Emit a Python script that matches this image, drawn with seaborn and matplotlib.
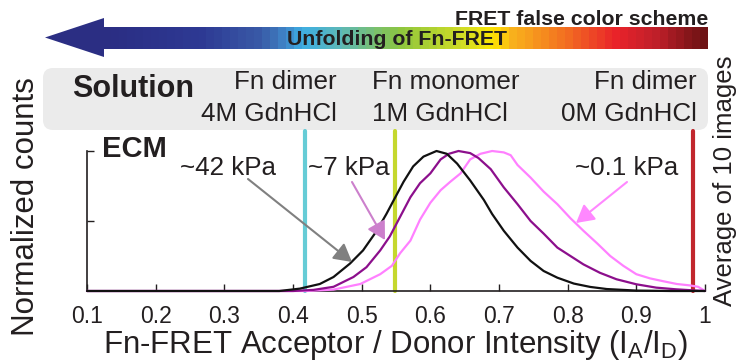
import numpy as np
import pandas as pd
import matplotlib
matplotlib.use("Agg")
import matplotlib.pyplot as plt
import seaborn as sns
from matplotlib.colors import LinearSegmentedColormap
from matplotlib.patches import FancyBboxPatch, Polygon

# ---------------- data ----------------
black_x = [0.10, 0.38, 0.41, 0.439, 0.459, 0.483, 0.502, 0.522, 0.536, 0.549, 0.561, 0.575, 0.590,
           0.609, 0.624, 0.639, 0.658, 0.678, 0.690, 0.707, 0.727, 0.746, 0.765, 0.785, 0.809,
           0.833, 0.857, 0.90, 0.95, 1.0]
black_y = [0, 0, 0.017, 0.05, 0.10, 0.196, 0.29, 0.43, 0.55, 0.67, 0.78, 0.89, 0.96,
           1.0, 0.98, 0.91, 0.79, 0.65, 0.55, 0.43, 0.31, 0.215, 0.143, 0.095, 0.053,
           0.029, 0.014, 0.003, 0.0, 0.0]

purple_x = [0.10, 0.40, 0.43, 0.459, 0.488, 0.507, 0.527, 0.541, 0.556, 0.571, 0.585, 0.600,
            0.615, 0.627, 0.641, 0.658, 0.670, 0.688, 0.707, 0.727, 0.746, 0.765, 0.785, 0.804,
            0.823, 0.847, 0.871, 0.900, 0.929, 0.958, 0.985, 1.0]
purple_y = [0, 0, 0.008, 0.03, 0.10, 0.17, 0.29, 0.39, 0.53, 0.67, 0.77, 0.84,
            0.94, 0.98, 1.0, 0.985, 0.95, 0.87, 0.74, 0.62, 0.50, 0.41, 0.31, 0.25,
            0.19, 0.13, 0.084, 0.048, 0.024, 0.012, 0.004, 0.0]

pink_x = [0.10, 0.42, 0.459, 0.498, 0.527, 0.544, 0.556, 0.571, 0.585, 0.600, 0.615, 0.629,
          0.644, 0.658, 0.673, 0.690, 0.707, 0.717, 0.727, 0.746, 0.765, 0.785, 0.804, 0.823,
          0.843, 0.862, 0.881, 0.900, 0.920, 0.939, 0.959, 0.978, 0.99, 1.0]
pink_y = [0, 0, 0.01, 0.05, 0.12, 0.18, 0.27, 0.36, 0.51, 0.63, 0.72, 0.78,
          0.84, 0.94, 0.98, 1.0, 0.99, 0.97, 0.90, 0.81, 0.71, 0.62, 0.52, 0.43,
          0.34, 0.25, 0.18, 0.12, 0.09, 0.07, 0.05, 0.04, 0.03, 0.0]

series_names = ["~0.1 kPa", "~7 kPa", "~42 kPa"]
series_colors = ["#FF80FF", "#8C0F8C", "#111111"]

ref_values = [0.417, 0.548, 0.982]
ref_colors = ["#66CCD6", "#C5D82E", "#C1272D"]

xticks = [0.1, 0.2, 0.3, 0.4, 0.5, 0.6, 0.7, 0.8, 0.9, 1.0]
xticklabels = ["0.1", "0.2", "0.3", "0.4", "0.5", "0.6", "0.7", "0.8", "0.9", "1"]

df = pd.concat([
    pd.DataFrame({"x": pink_x, "y": pink_y, "s": series_names[0]}),
    pd.DataFrame({"x": purple_x, "y": purple_y, "s": series_names[1]}),
    pd.DataFrame({"x": black_x, "y": black_y, "s": series_names[2]}),
], ignore_index=True)

# ---------------- style ----------------
sns.set_theme(style="white")
TXT = "#231F20"
plt.rcParams["font.family"] = ["Liberation Sans", "DejaVu Sans"]
plt.rcParams["mathtext.fontset"] = "custom"
plt.rcParams["mathtext.rm"] = "Liberation Sans"
plt.rcParams["mathtext.it"] = "Liberation Sans"
plt.rcParams["text.color"] = TXT

W, H = 738, 364
fig = plt.figure(figsize=(W / 100, H / 100), dpi=100)

# overlay in pixel coordinates for decorations
ov = fig.add_axes([0, 0, 1, 1], zorder=0)
ov.set_xlim(0, W)
ov.set_ylim(H, 0)
ov.axis("off")

# main axes
x0, x1, ytop, ybot = 87, 705, 151, 291
ax = fig.add_axes([x0 / W, (H - ybot) / H, (x1 - x0) / W, (ybot - ytop) / H], zorder=1)
ax.set_facecolor("none")

for v, c in zip(ref_values, ref_colors):
    ax.axvline(v, ymin=0, ymax=(ybot - 131) / (ybot - ytop), color=c, lw=3, clip_on=False, zorder=1)

sns.lineplot(data=df, x="x", y="y", hue="s", hue_order=series_names,
             palette=dict(zip(series_names, series_colors)), estimator=None,
             lw=1.6, ax=ax, legend=False, zorder=3)
for ln in ax.get_lines():
    ln.set_clip_on(False)

ax.set_xlim(0.1, 1.0)
ax.set_ylim(0, 1.0)
ax.set_xticks(xticks)
ax.set_xticklabels(xticklabels)
ax.set_yticks([0.5, 1.0])
ax.set_yticklabels([])
ax.tick_params(axis="both", direction="in", length=5, width=1, color=TXT)
ax.tick_params(axis="x", labelsize=16.5, labelcolor=TXT, pad=10)
ax.tick_params(axis="y", left=True)
ax.tick_params(axis="x", bottom=True)
for s in ["top", "right"]:
    ax.spines[s].set_visible(False)
for s in ["left", "bottom"]:
    ax.spines[s].set_color(TXT)
    ax.spines[s].set_linewidth(1.2)
ax.set_xlabel(r"Fn-FRET Acceptor / Donor Intensity (I$_\mathregular{A}$/I$_\mathregular{D}$)",
              fontsize=22.5, color=TXT, labelpad=0)
ax.set_ylabel("")

fig.text(26 / W, 1 - 207 / H, "Normalized counts", rotation=90, ha="center", va="center",
         fontsize=22.5, color=TXT)
fig.text(725 / W, 1 - 181 / H, "Average of 10 images", rotation=90, ha="center", va="center",
         fontsize=18.5, color=TXT)

# ---------------- header: gradient arrow ----------------
cmap = LinearSegmentedColormap.from_list("fret", [
    (0.00, "#2B2E83"), (0.16, "#2E3A94"), (0.26, "#3A5CA8"), (0.30, "#3F86C8"),
    (0.325, "#3DAEE4"), (0.39, "#5DB8B8"), (0.49, "#8DC63F"), (0.607, "#D7DF23"),
    (0.648, "#FFE600"), (0.68, "#F9B21C"), (0.755, "#F47A20"), (0.855, "#E9232A"),
    (0.92, "#C1202A"), (1.00, "#6E1214")])
bands = np.linspace(0, 1, 76)[None, :]
ov.imshow(bands, cmap=cmap, extent=(103, 708, 49, 27), aspect="auto",
          interpolation="nearest", zorder=1)
ov.add_patch(Polygon([(45, 37.5), (104, 18), (104, 57)], closed=True,
                     facecolor="#2B2E83", edgecolor="none", zorder=2))
ov.set_xlim(0, W)
ov.set_ylim(H, 0)
ov.text(708, 25, "FRET false color scheme", ha="right", va="baseline",
        fontsize=15.3, fontweight="bold", color=TXT, zorder=3)
ov.text(287, 45, "Unfolding of Fn-FRET", ha="left", va="baseline",
        fontsize=15.3, fontweight="bold", color=TXT, zorder=3)

# ---------------- solution box ----------------
ov.add_patch(FancyBboxPatch((43, 68), 665, 62, boxstyle="round,pad=0,rounding_size=10",
                            facecolor="#EBEBEB", edgecolor="none", zorder=1))
ov.text(72, 97, "Solution", ha="left", va="baseline", fontsize=22, fontweight="bold", color=TXT)
ov.text(337, 89, "Fn dimer", ha="right", va="baseline", fontsize=18.7, color=TXT)
ov.text(337, 121, "4M GdnHCl", ha="right", va="baseline", fontsize=18.7, color=TXT)
ov.text(372, 89, "Fn monomer", ha="left", va="baseline", fontsize=18.7, color=TXT)
ov.text(372, 121, "1M GdnHCl", ha="left", va="baseline", fontsize=18.7, color=TXT)
ov.text(697, 89, "Fn dimer", ha="right", va="baseline", fontsize=18.7, color=TXT)
ov.text(697, 121, "0M GdnHCl", ha="right", va="baseline", fontsize=18.7, color=TXT)

# ---------------- ECM annotations ----------------
ov.text(102, 157, "ECM", ha="left", va="baseline", fontsize=21, fontweight="bold", color=TXT, zorder=5)
ov.text(180, 175, "~42 kPa", ha="left", va="baseline", fontsize=18.7, color=TXT, zorder=5)
ov.text(308, 175, "~7 kPa", ha="left", va="baseline", fontsize=18.7, color=TXT, zorder=5)
ov.text(575, 175, "~0.1 kPa", ha="left", va="baseline", fontsize=18.7, color=TXT, zorder=5)

arrow_specs = [((248, 179), (352, 262), "#808080"),
               ((352, 182), (385, 240), "#CC80CC"),
               ((627, 182), (576, 223), "#FF88FF")]
for (sx, sy), (tx, ty), c in arrow_specs:
    ax.annotate("", xy=(tx / W, 1 - ty / H), xytext=(sx / W, 1 - sy / H),
                xycoords="figure fraction", textcoords="figure fraction",
                arrowprops=dict(arrowstyle="-|>,head_length=0.9,head_width=0.5",
                                color=c, lw=1.5, shrinkA=0, shrinkB=0), zorder=6)

fig.savefig("out.png", dpi=100)
